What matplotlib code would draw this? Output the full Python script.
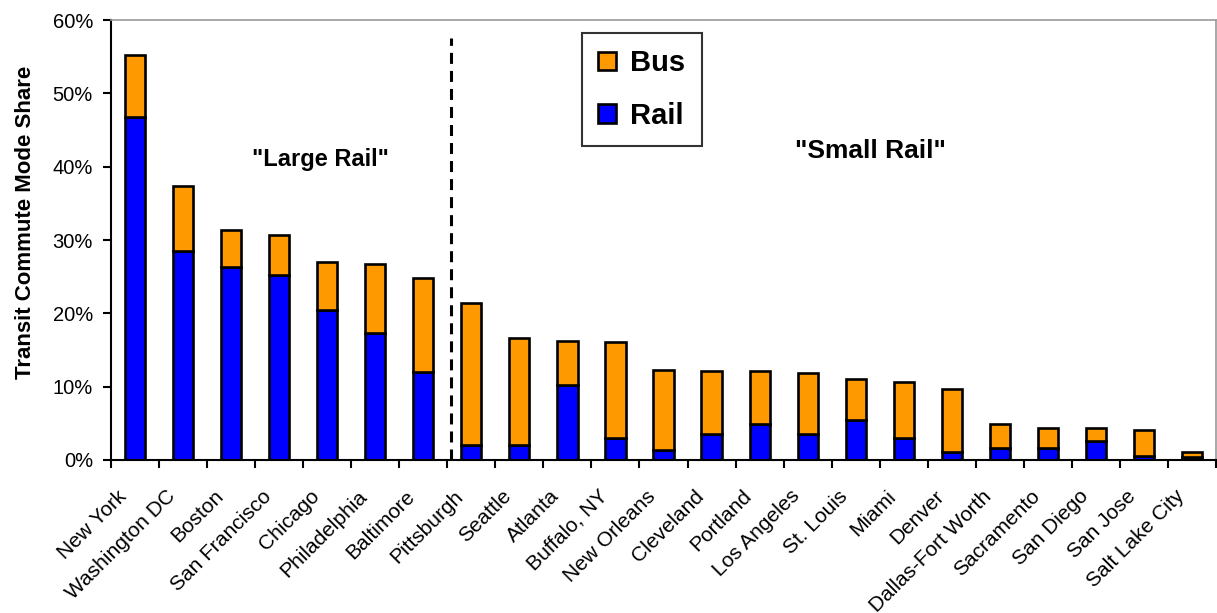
import matplotlib.pyplot as plt
import numpy as np
from matplotlib.ticker import PercentFormatter
from matplotlib.transforms import ScaledTranslation

plt.rcParams['font.family'] = ['Liberation Sans', 'DejaVu Sans']

cities = [
    "New York", "Washington DC", "Boston", "San Francisco", "Chicago",
    "Philadelphia", "Baltimore", "Pittsburgh", "Seattle", "Atlanta",
    "Buffalo, NY", "New Orleans", "Cleveland", "Portland", "Los Angeles",
    "St. Louis", "Miami", "Denver", "Dallas-Fort Worth", "Sacramento",
    "San Diego", "San Jose", "Salt Lake City",
]
# shares in percent
rail = [46.8, 28.5, 26.3, 25.2, 20.4, 17.3, 12.0, 2.1, 2.0, 10.2, 3.0, 1.3,
        3.5, 4.9, 3.5, 5.5, 3.0, 1.05, 1.6, 1.7, 2.6, 0.5, 0.4]
total = [55.3, 37.4, 31.4, 30.7, 27.0, 26.7, 24.8, 21.4, 16.6, 16.3, 16.1, 12.3,
         12.1, 12.1, 11.9, 11.1, 10.6, 9.7, 4.9, 4.4, 4.4, 4.1, 1.1]
bus = [t - r for t, r in zip(total, rail)]

fig = plt.figure(figsize=(12.17, 6.13), dpi=100)
ax = fig.add_axes([0.0912, 0.2496, 0.908, 0.7175])

x = np.arange(len(cities))
w = 0.42
ax.bar(x, rail, w, color='#0000FF', edgecolor='black', linewidth=1.9, label='Rail')
ax.bar(x, bus, w, bottom=rail, color='#FF9900', edgecolor='black', linewidth=1.9, label='Bus')

ax.set_xlim(-0.5, len(cities) - 0.5)
ax.set_ylim(0, 60)
ax.set_yticks(range(0, 61, 10))
ax.yaxis.set_major_formatter(PercentFormatter(decimals=0))
ax.set_xticks(x)
ax.set_xticklabels(cities, rotation=45, ha='right', va='center', rotation_mode='anchor', fontsize=15)
ax.tick_params(axis='x', length=0, pad=24)
# shift the rotated labels a bit left of the bar centres, like the original
shift = ScaledTranslation(-11 / 100, 0, fig.dpi_scale_trans)
for lbl in ax.get_xticklabels():
    lbl.set_transform(lbl.get_transform() + shift)
ax.set_xticks(np.arange(-0.5, len(cities), 1), minor=True)
ax.tick_params(axis='x', which='minor', length=6, width=1.5, direction='out')
ax.tick_params(axis='y', length=6, width=1.5, labelsize=14.5, pad=7)
ax.set_ylabel('Transit Commute Mode Share', fontsize=16, fontweight='bold')
ax.yaxis.set_label_coords(-0.068, 0.541)

for side in ('left', 'bottom'):
    ax.spines[side].set_linewidth(1.5)
for side in ('top', 'right'):
    ax.spines[side].set_color('#999999')
    ax.spines[side].set_linewidth(1.2)

ax.vlines(6.57, 0, 57.6, colors='black', linestyles=(0, (3.6, 2.3)), linewidth=2.2)
ax.text(3.85, 41, '"Large Rail"', fontsize=17, fontweight='bold', ha='center', va='center')
ax.text(15.3, 42.1, '"Small Rail"', fontsize=19, fontweight='bold', ha='center', va='center')

handles, labels = ax.get_legend_handles_labels()
leg = ax.legend(handles[::-1], labels[::-1], loc='upper left', bbox_to_anchor=(0.4265, 0.9705),
                borderaxespad=0, prop={'size': 21, 'weight': 'bold'}, frameon=True,
                fancybox=False, edgecolor='black', handlelength=0.6, handleheight=0.6,
                handletextpad=0.5, labelspacing=0.85, borderpad=0.55)
leg.get_frame().set_linewidth(1.5)

fig.savefig('out.png', dpi=100)
